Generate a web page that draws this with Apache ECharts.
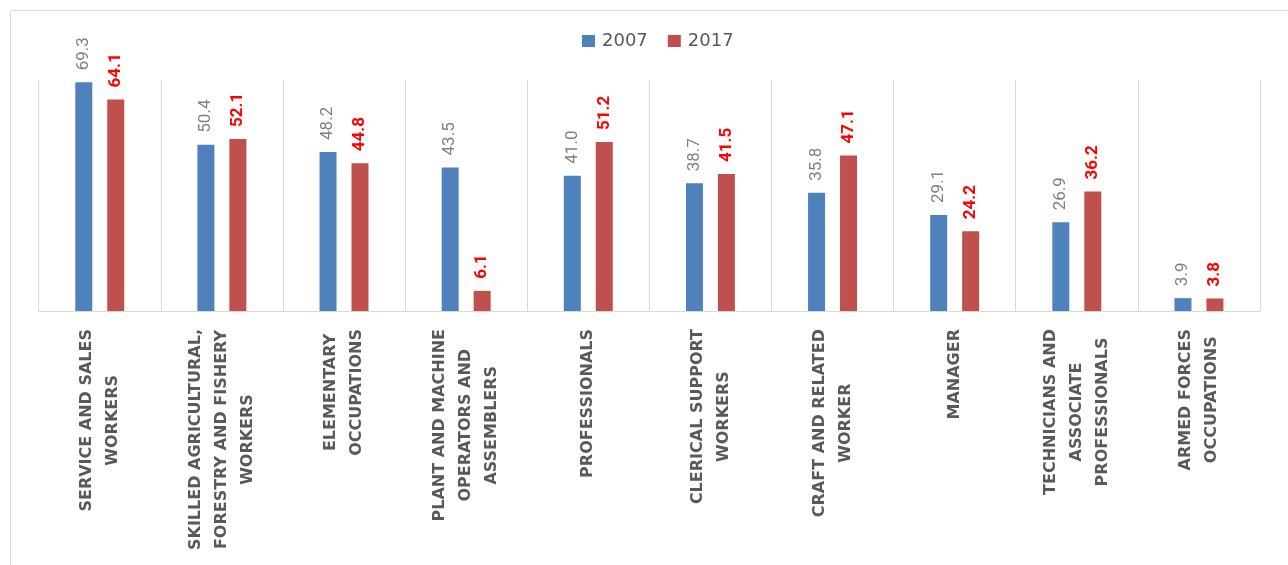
<!DOCTYPE html>
<html>
<head>
<meta charset="utf-8">
<script src="https://cdn.jsdelivr.net/npm/echarts@6/dist/echarts.min.js"></script>
<style>
html,body{margin:0;padding:0;background:#fff;}
#chart{width:1288px;height:565px;}
</style>
</head>
<body>
<div id="chart"></div>
<script>
var categories = [
  "SERVICE AND SALES\nWORKERS",
  "SKILLED AGRICULTURAL,\nFORESTRY AND FISHERY\nWORKERS",
  "ELEMENTARY\nOCCUPATIONS",
  "PLANT AND MACHINE\nOPERATORS AND\nASSEMBLERS",
  "PROFESSIONALS",
  "CLERICAL SUPPORT\nWORKERS",
  "CRAFT AND RELATED\nWORKER",
  "MANAGER",
  "TECHNICIANS AND\nASSOCIATE\nPROFESSIONALS",
  "ARMED FORCES\nOCCUPATIONS"
];
var values2007 = [69.3, 50.4, 48.2, 43.5, 41.0, 38.7, 35.8, 29.1, 26.9, 3.9];
var values2017 = [64.1, 52.1, 44.8, 6.1, 51.2, 41.5, 47.1, 24.2, 36.2, 3.8];
var seriesNames = ["2007", "2017"];

var chart = echarts.init(document.getElementById('chart'), null, {renderer: 'canvas'});
chart.setOption({
  animation: false,
  backgroundColor: '#ffffff',
  graphic: [{
    type: 'rect', left: 8, top: 8, silent: true,
    shape: {width: 1300, height: 620},
    style: {fill: 'none', stroke: '#d9d9d9', lineWidth: 1}
  }],
  legend: {
    top: 27, left: 577,
    icon: 'rect', itemWidth: 13, itemHeight: 12, itemGap: 20,
    textStyle: {fontFamily: 'DejaVu Sans', fontSize: 18, color: '#595959', padding: [0, 0, 0, 2]},
    data: seriesNames
  },
  grid: {left: 38.7, right: 28, top: 80, bottom: 254, containLabel: false},
  xAxis: {
    type: 'category',
    data: categories,
    axisLine: {show: true, lineStyle: {color: '#d9d9d9', width: 1}},
    axisTick: {show: false},
    splitLine: {show: true, lineStyle: {color: '#d9d9d9', width: 1}},
    axisLabel: {
      interval: 0, rotate: 90, margin: 18,
      formatter: function (v) {
        return v.split('\n').map(function (s) { return '{c|' + s + '}'; }).join('\n');
      },
      rich: {
        c: {align: 'center', fontFamily: 'DejaVu Sans', fontWeight: 'bold', fontSize: 16, color: '#595959', lineHeight: 26}
      }
    }
  },
  yAxis: {
    type: 'value', min: 0, max: 70,
    show: false,
    splitLine: {show: false}
  },
  series: [{
    name: seriesNames[0], type: 'bar', data: values2007,
    barWidth: 17, barGap: '88%',
    itemStyle: {color: '#4f81bd'},
    label: {
      show: true, position: 'top', rotate: 90, align: 'left', verticalAlign: 'middle', distance: 12,
      formatter: function (p) { return p.value.toFixed(1); },
      fontFamily: 'Roboto', fontSize: 17, color: '#808080'
    }
  }, {
    name: seriesNames[1], type: 'bar', data: values2017,
    barWidth: 17, barGap: '88%',
    itemStyle: {color: '#c0504d'},
    label: {
      show: true, position: 'top', rotate: 90, align: 'left', verticalAlign: 'middle', distance: 12,
      formatter: function (p) { return p.value.toFixed(1); },
      fontFamily: 'Roboto', fontSize: 17, fontWeight: 'bold', color: '#ff0000'
    }
  }]
});
</script>
</body>
</html>
